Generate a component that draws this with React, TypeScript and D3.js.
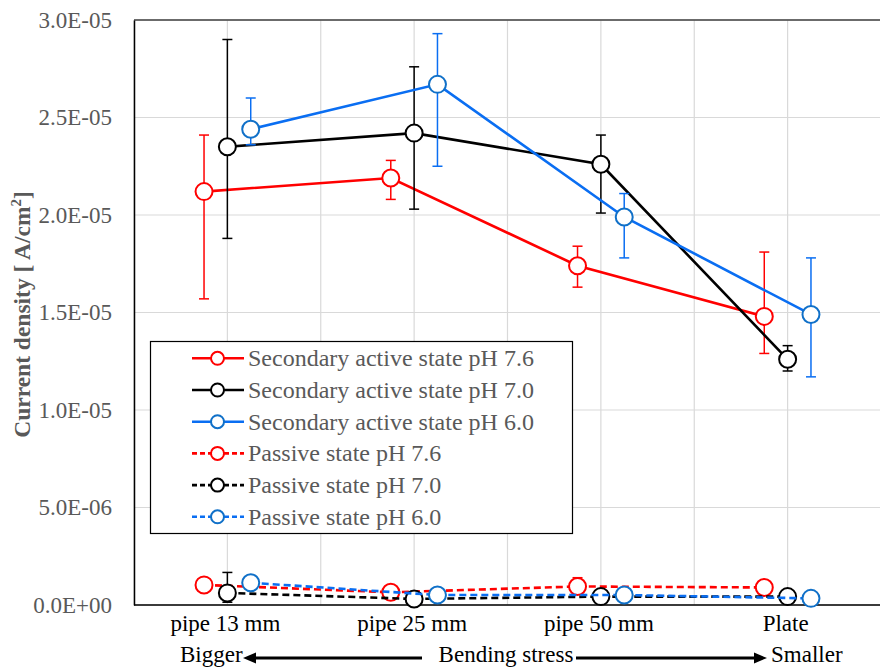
import { useEffect, useRef } from "react";
import * as d3 from "d3";

// categories along the x axis (scatter x = 1..4)
const categories = ["pipe 13 mm", "pipe 25 mm", "pipe 50 mm", "Plate"];

// secondary active state, A/cm2
const secondary76 = [2.12e-5, 2.19e-5, 1.74e-5, 1.48e-5];
const secondary76Up = [2.9e-6, 0.9e-6, 1.0e-6, 3.3e-6];
const secondary76Down = [5.5e-6, 1.1e-6, 1.1e-6, 1.9e-6];

const secondary70 = [2.35e-5, 2.42e-5, 2.26e-5, 1.26e-5];
const secondary70Up = [5.5e-6, 3.4e-6, 1.5e-6, 0.7e-6];
const secondary70Down = [4.7e-6, 3.9e-6, 2.5e-6, 0.6e-6];

const secondary60 = [2.44e-5, 2.67e-5, 1.99e-5, 1.49e-5];
const secondary60Up = [1.6e-6, 2.6e-6, 1.2e-6, 2.9e-6];
const secondary60Down = [0.8e-6, 4.2e-6, 2.1e-6, 3.2e-6];

// passive state, A/cm2
const passive76 = [1.03e-6, 0.65e-6, 0.95e-6, 0.9e-6];
const passive76Up = [0, 0, 0.45e-6, 0];
const passive76Down = [0, 0, 0.3e-6, 0];

const passive70 = [0.62e-6, 0.31e-6, 0.43e-6, 0.43e-6];
const passive70Up = [1.05e-6, 0, 0, 0];
const passive70Down = [0.48e-6, 0, 0, 0];

const passive60 = [1.14e-6, 0.51e-6, 0.51e-6, 0.34e-6];
const passive60Up = [0, 0, 0, 0];
const passive60Down = [0, 0, 0, 0];

const yTicks = [0, 5e-6, 1e-5, 1.5e-5, 2e-5, 2.5e-5, 3e-5];

const RED = "#FF0000";
const BLACK = "#000000";
const BLUE = "#0A6EF2";
const BLUE_MARK = "#1070C8";

interface Series {
  name: string;
  values: number[];
  up: number[];
  down: number[];
  color: string;
  marker: string;
  dashed: boolean;
  offset: number;
}

const series: Series[] = [
  { name: "Secondary active state pH 7.6", values: secondary76, up: secondary76Up, down: secondary76Down, color: RED, marker: RED, dashed: false, offset: -0.125 },
  { name: "Secondary active state pH 7.0", values: secondary70, up: secondary70Up, down: secondary70Down, color: BLACK, marker: BLACK, dashed: false, offset: 0 },
  { name: "Secondary active state pH 6.0", values: secondary60, up: secondary60Up, down: secondary60Down, color: BLUE, marker: BLUE_MARK, dashed: false, offset: 0.125 },
  { name: "Passive state pH 7.6", values: passive76, up: passive76Up, down: passive76Down, color: RED, marker: RED, dashed: true, offset: -0.125 },
  { name: "Passive state pH 7.0", values: passive70, up: passive70Up, down: passive70Down, color: BLACK, marker: BLACK, dashed: true, offset: 0 },
  { name: "Passive state pH 6.0", values: passive60, up: passive60Up, down: passive60Down, color: BLUE, marker: BLUE_MARK, dashed: true, offset: 0.125 },
];

const fmtExp = (d: number) => {
  const [m, e] = d.toExponential(1).split("e");
  const n = Math.abs(parseInt(e, 10));
  const sign = e.startsWith("-") ? "-" : "+";
  return `${m}E${sign}${n < 10 ? "0" + n : n}`;
};

const FONT = "'Liberation Serif', 'Times New Roman', serif";
const DASH = "7,4";

export default function App() {
  const svgRef = useRef(null);

  useEffect(() => {
    const width = 880;
    const height = 670;
    const margin = { top: 20, right: -1, bottom: 65, left: 134 };

    const svg = d3.select(svgRef.current).attr("width", width).attr("height", height);
    svg.selectAll("*").remove();

    const x = d3.scaleLinear().domain([0.5, 4.5]).range([margin.left, width - margin.right]);
    const y = d3.scaleLinear().domain([0, 3e-5]).range([height - margin.bottom, margin.top]);

    // gridlines
    const grid = svg.append("g");
    grid
      .selectAll("line.v")
      .data(d3.range(0.5, 4.51, 0.5))
      .join("line")
      .attr("x1", (d) => x(d))
      .attr("x2", (d) => x(d))
      .attr("y1", y(3e-5))
      .attr("y2", y(0))
      .attr("stroke", "#D9D9D9")
      .attr("stroke-width", 1.2);
    grid
      .selectAll("line.h")
      .data(yTicks)
      .join("line")
      .attr("x1", x(0.5))
      .attr("x2", x(4.5))
      .attr("y1", (d) => y(d))
      .attr("y2", (d) => y(d))
      .attr("stroke", "#D9D9D9")
      .attr("stroke-width", 1.2);

    // plot frame
    svg
      .append("line")
      .attr("x1", x(0.5))
      .attr("x2", x(4.5))
      .attr("y1", y(3e-5))
      .attr("y2", y(3e-5))
      .attr("stroke", "#404040")
      .attr("stroke-width", 1.5);

    // y axis
    const yAxis = svg
      .append("g")
      .attr("transform", `translate(${x(0.5)},0)`)
      .call(d3.axisLeft(y).tickValues(yTicks).tickSize(0).tickPadding(22).tickFormat((d) => fmtExp(+d)));
    yAxis.select(".domain").attr("stroke", "#000").attr("stroke-width", 1.5);
    yAxis.selectAll("text").attr("font-family", FONT).attr("font-size", 23).attr("fill", "#595959");

    // x axis line
    svg
      .append("line")
      .attr("x1", x(0.5))
      .attr("x2", x(4.5))
      .attr("y1", y(0))
      .attr("y2", y(0))
      .attr("stroke", "#000")
      .attr("stroke-width", 1.5);

    // category labels
    svg
      .append("g")
      .selectAll("text")
      .data(categories)
      .join("text")
      .attr("x", (_, i) => x(i + 1) - 2)
      .attr("y", 631)
      .attr("text-anchor", "middle")
      .attr("font-family", FONT)
      .attr("font-size", 23)
      .attr("fill", "#000")
      .text((d) => d);

    // y title
    svg
      .append("text")
      .attr("transform", `translate(30,${(y(0) + y(3e-5)) / 2 + 2}) rotate(-90)`)
      .attr("text-anchor", "middle")
      .attr("font-family", FONT)
      .attr("font-size", 23.5)
      .attr("font-weight", "bold")
      .attr("fill", "#595959")
      .call((t) => {
        t.append("tspan").text("Current density [ A/cm");
        t.append("tspan").attr("dy", -9).attr("font-size", 15).text("2");
        t.append("tspan").attr("dy", 9).text("]");
      });

    // series
    const line = d3
      .line<number>()
      .x((_, i) => x(i + 1))
      .y((d) => y(d));

    series.forEach((s) => {
      const g = svg.append("g");
      const px = (i: number) => x(i + 1 + s.offset);
      // error bars
      s.values.forEach((v, i) => {
        if (!s.up[i] && !s.down[i]) return;
        const top = y(v + s.up[i]);
        const bot = y(v - s.down[i]);
        const cx = px(i);
        g.append("line").attr("x1", cx).attr("x2", cx).attr("y1", top).attr("y2", bot).attr("stroke", s.color).attr("stroke-width", 1.5);
        [top, bot].forEach((yy) =>
          g.append("line").attr("x1", cx - 5).attr("x2", cx + 5).attr("y1", yy).attr("y2", yy).attr("stroke", s.color).attr("stroke-width", 1.5)
        );
      });
      g.append("path")
        .datum(s.values)
        .attr("d", line.x((_, i) => px(i)))
        .attr("fill", "none")
        .attr("stroke", s.color)
        .attr("stroke-width", 2.6)
        .attr("stroke-dasharray", s.dashed ? DASH : null);
      g.selectAll("circle")
        .data(s.values)
        .join("circle")
        .attr("cx", (_, i) => px(i))
        .attr("cy", (d) => y(d))
        .attr("r", 8.5)
        .attr("fill", "#fff")
        .attr("stroke", s.marker)
        .attr("stroke-width", 2);
    });

    // legend
    const lg = svg.append("g");
    lg.append("rect")
      .attr("x", 150.5)
      .attr("y", 341.5)
      .attr("width", 422)
      .attr("height", 192)
      .attr("fill", "#fff")
      .attr("stroke", "#000")
      .attr("stroke-width", 1.2);
    series.forEach((s, i) => {
      const cy = 358.3 + i * 31.7;
      lg.append("line")
        .attr("x1", 192)
        .attr("x2", 244)
        .attr("y1", cy)
        .attr("y2", cy)
        .attr("stroke", s.color)
        .attr("stroke-width", 2.6)
        .attr("stroke-dasharray", s.dashed ? "5,3" : null);
      lg.append("circle").attr("cx", 217.5).attr("cy", cy).attr("r", 6.5).attr("fill", "#fff").attr("stroke", s.marker).attr("stroke-width", 2);
      lg.append("text")
        .attr("x", 248)
        .attr("y", cy)
        .attr("dy", "0.33em")
        .attr("font-family", FONT)
        .attr("font-size", 24)
        .attr("fill", "#595959")
        .text(s.name);
    });

    // bending stress annotation
    const ay = 658;
    const ann = svg.append("g").attr("font-family", FONT).attr("font-size", 23).attr("fill", "#000");
    ann.append("text").attr("x", 180).attr("y", 662).text("Bigger");
    ann.append("text").attr("x", 506).attr("y", 662).attr("text-anchor", "middle").text("Bending stress");
    ann.append("text").attr("x", 771).attr("y", 662).text("Smaller");
    const arrow = (tail: number, head: number) => {
      const dir = head > tail ? 1 : -1;
      ann.append("line").attr("x1", tail).attr("x2", head - dir * 10).attr("y1", ay).attr("y2", ay).attr("stroke", "#000").attr("stroke-width", 2.8);
      ann.append("path")
        .attr("d", `M${head},${ay} L${head - dir * 13},${ay - 5.5} L${head - dir * 13},${ay + 5.5} Z`)
        .attr("fill", "#000");
    };
    arrow(422, 243);
    arrow(576, 767);
  }, []);

  return (
    <div>
      <svg ref={svgRef} style={{ position: "absolute", left: 0, top: 0, background: "#fff" }}></svg>
    </div>
  );
}
